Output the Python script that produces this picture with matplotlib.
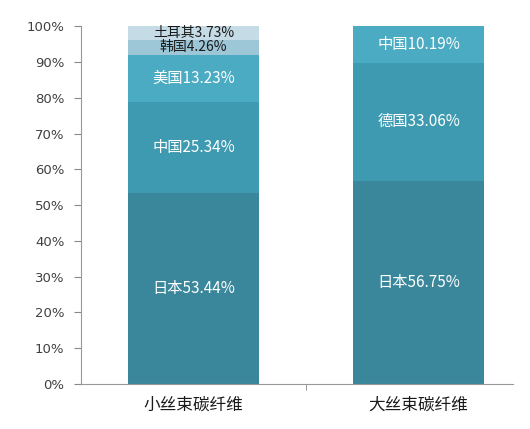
import numpy as np
import matplotlib
matplotlib.use("Agg")
import matplotlib.pyplot as plt
from matplotlib.ticker import FuncFormatter

plt.rcParams['font.family'] = ['Noto Sans CJK SC', 'DejaVu Sans']

categories = ["小丝束碳纤维", "大丝束碳纤维"]
# segments stacked bottom to top
small_names = ["日本", "中国", "美国", "韩国", "土耳其"]
small_vals = [53.44, 25.34, 13.23, 4.26, 3.73]
large_names = ["日本", "德国", "中国"]
large_vals = [56.75, 33.06, 10.19]

small_colors = ["#3a879c", "#3d9ab0", "#4aabc3", "#9dc6d6", "#c5dbe5"]
large_colors = ["#3a879c", "#3d9ab0", "#4aabc3"]
small_txt = ["white", "white", "white", "#1a1a1a", "#1a1a1a"]
large_txt = ["white", "white", "white"]

fig = plt.figure(figsize=(5.30, 4.29), dpi=100)
ax = fig.add_axes([0.153, 0.105, 0.815, 0.834])

width = 0.58

def stack(x, names, vals, colors, txt):
    bottom = 0
    for n, v, c, t in zip(names, vals, colors, txt):
        ax.bar(x, v / 100, width, bottom=bottom, color=c, edgecolor="none")
        fs = 11 if v > 5 else 10
        ax.text(x, bottom + v / 200, "%s%.2f%%" % (n, v), ha="center", va="center",
                color=t, fontsize=fs)
        bottom += v / 100

stack(0, small_names, small_vals, small_colors, small_txt)
stack(1, large_names, large_vals, large_colors, large_txt)

ax.set_ylim(0, 1)
ax.set_xlim(-0.5, 1.42)
ax.set_yticks(np.arange(0, 1.01, 0.1))
ax.yaxis.set_major_formatter(FuncFormatter(lambda v, p: "%d%%" % round(v * 100)))
for lab in ax.get_yticklabels():
    lab.set_family("DejaVu Sans")
ax.set_xticks([0, 1])
ax.set_xticklabels(categories, fontsize=12, color="#1a1a1a")
ax.set_xticks([0.5], minor=True)
ax.tick_params(axis="x", which="major", length=0, pad=9)
ax.tick_params(axis="x", which="minor", length=4, color="#888888")
ax.tick_params(axis="y", length=5, pad=7, color="#888888", labelcolor="#404040", labelsize=9.5)

for s in ["top", "right"]:
    ax.spines[s].set_visible(False)
for s in ["left", "bottom"]:
    ax.spines[s].set_color("#999999")

fig.savefig("out.png", dpi=100)
